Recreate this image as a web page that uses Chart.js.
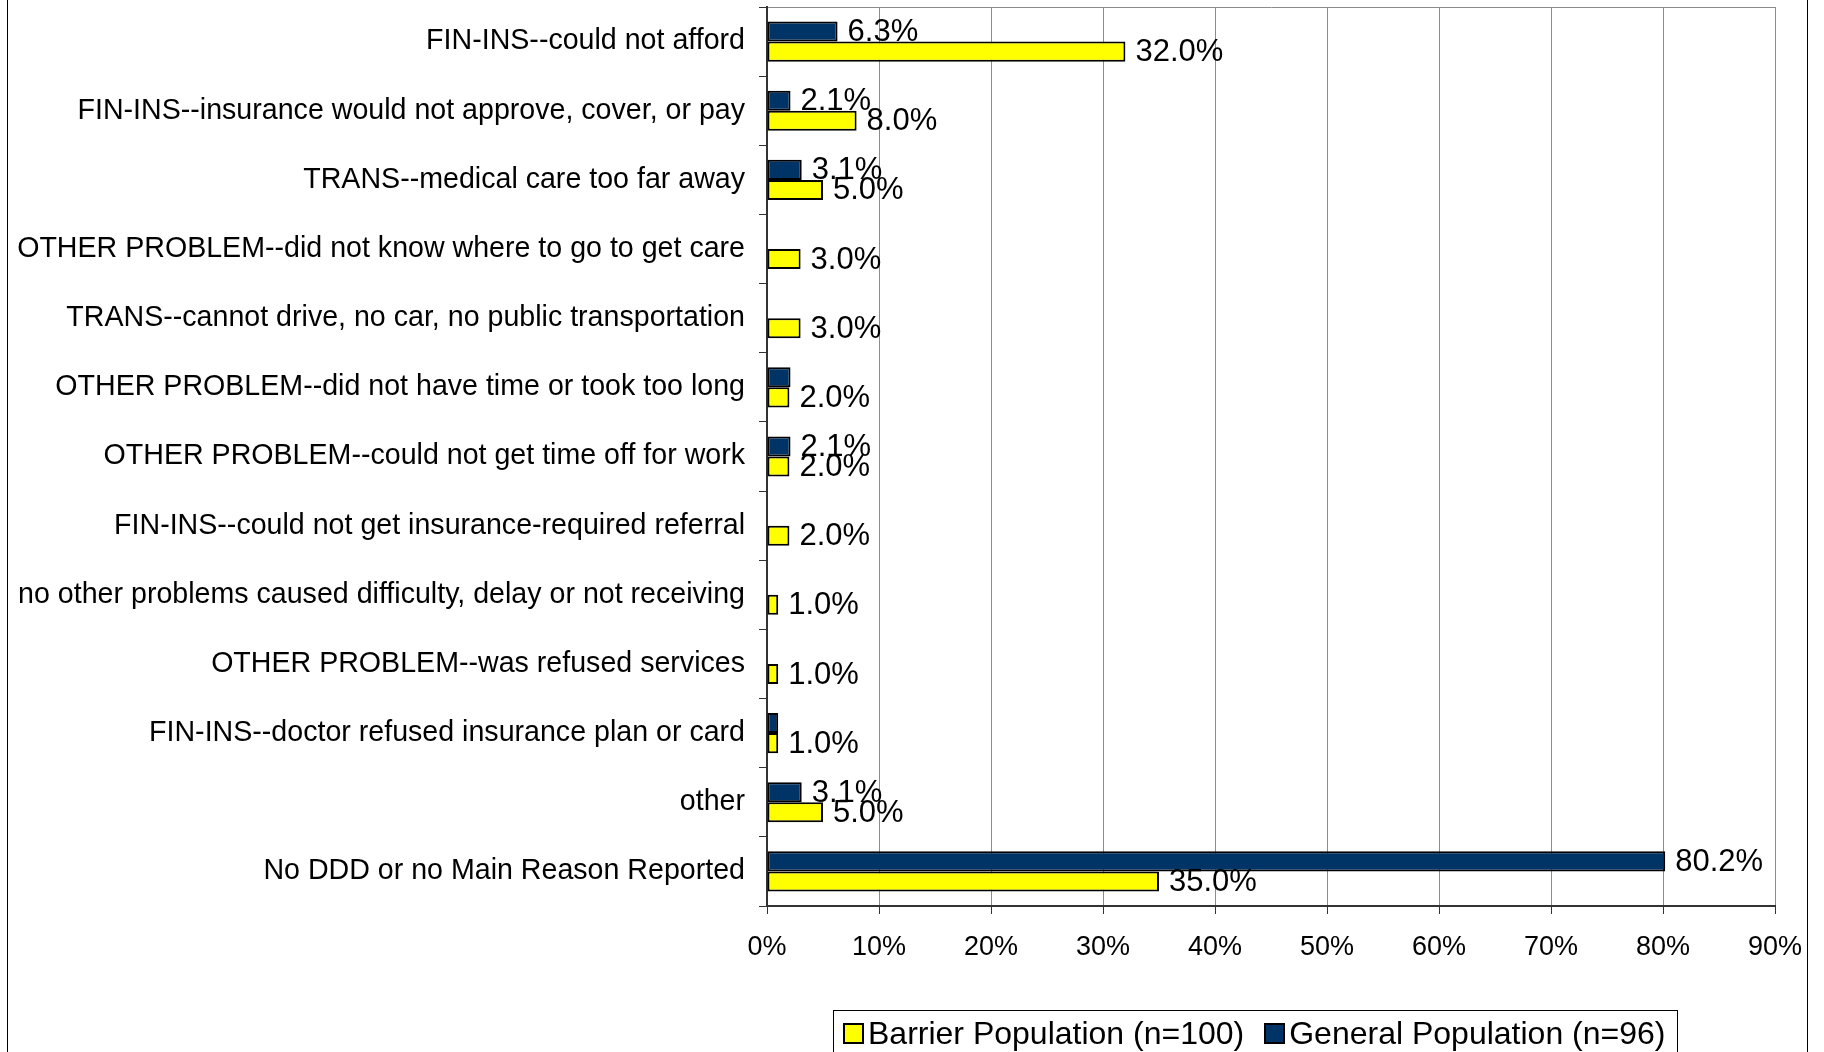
<!DOCTYPE html>
<html>
<head>
<meta charset="utf-8">
<script src="https://cdn.jsdelivr.net/npm/chart.js@4.4.0/dist/chart.umd.min.js"></script>
<style>
  body { margin: 0; background: #fff; }
  .frame { position: absolute; left: 7px; top: 0; width: 1799px; height: 1052px;
           border-left: 1px solid #000; border-right: 1px solid #000; }
  #chart { position: absolute; left: 0; top: 0; }
  .legend { position: absolute; left: 833px; top: 1010px; width: 845px; height: 60px;
            border: 1px solid #000; border-bottom: none; box-sizing: border-box;
            display: flex; align-items: flex-start; padding: 11px 0 0 9px; white-space: nowrap;
            font-family: 'Liberation Sans', Arial, sans-serif; font-size: 32px; color: #000; }
  .legend .item { display: flex; align-items: center; flex-shrink: 0; margin-right: 20px; line-height: 22px; }
  .legend .swatch { width: 17px; height: 17px; border: 2px solid #000; margin-right: 4px; flex-shrink: 0; }
</style>
</head>
<body>
<div class="frame"></div>
<canvas id="chart" width="1824" height="1052"></canvas>
<div class="legend" id="legend"></div>
<script>
const categories = [
  'FIN-INS--could not afford',
  'FIN-INS--insurance would not approve, cover, or pay',
  'TRANS--medical care too far away',
  'OTHER PROBLEM--did not know where to go to get care',
  'TRANS--cannot drive, no car, no public transportation',
  'OTHER PROBLEM--did not have time or took too long',
  'OTHER PROBLEM--could not get time off for work',
  'FIN-INS--could not get insurance-required referral',
  'no other problems caused difficulty, delay or not receiving',
  'OTHER PROBLEM--was refused services',
  'FIN-INS--doctor refused insurance plan or card',
  'other',
  'No DDD or no Main Reason Reported'
]
const barrierValues = [32.0, 8.0, 5.0, 3.0, 3.0, 2.0, 2.0, 2.0, 1.0, 1.0, 1.0, 5.0, 35.0]
const generalValues = [6.3, 2.1, 3.1, 0, 0, 2.1, 2.1, 0, 0, 0, 1.0, 3.1, 80.2]
// the original only prints some of the general population values
const generalLabelShown = [true, true, true, false, false, false, true, false, false, false, false, true, true]
const xTickValues = [0, 10, 20, 30, 40, 50, 60, 70, 80, 90]

const FONT = "'Liberation Sans', Arial, sans-serif"

// value labels drawn at the end of each bar
const valueLabels = {
  id: 'valueLabels',
  afterDatasetsDraw(chart) {
    const ctx = chart.ctx
    ctx.save()
    ctx.font = '31px ' + FONT
    ctx.fillStyle = '#000'
    ctx.textBaseline = 'middle'
    ctx.textAlign = 'left'
    chart.data.datasets.forEach((ds, di) => {
      const meta = chart.getDatasetMeta(di)
      meta.data.forEach((bar, i) => {
        const v = ds.data[i]
        if (!v) return
        if (ds.showLabel && !ds.showLabel[i]) return
        ctx.fillText(v.toFixed(1) + '%', bar.x + 10, bar.y + 1)
      })
    })
    ctx.restore()
  }
}

const data = {
  labels: categories,
  datasets: [
    {
      label: 'General Population (n=96)',
      data: generalValues,
      showLabel: generalLabelShown,
      backgroundColor: '#003366',
      borderColor: '#000',
      borderWidth: 2,
      borderSkipped: false
    },
    {
      label: 'Barrier Population (n=100)',
      data: barrierValues,
      backgroundColor: '#ffff00',
      borderColor: '#000',
      borderWidth: 2,
      borderSkipped: false
    }
  ]
}

const config = {
  type: 'bar',
  data: data,
  options: {
    indexAxis: 'y',
    responsive: false,
    animation: false,
    devicePixelRatio: 1,
    layout: { padding: { top: 7, right: 49, left: 0, bottom: 0 } },
    datasets: { bar: { categoryPercentage: 0.58, barPercentage: 1.0 } },
    plugins: {
      legend: { display: false },
      tooltip: { enabled: false }
    },
    scales: {
      x: {
        min: 0,
        max: 90,
        afterBuildTicks: (scale) => { scale.ticks = xTickValues.map(v => ({ value: v })) },
        afterFit: (scale) => { scale.height = 146 },
        ticks: {
          color: '#000',
          padding: 17,
          font: { family: FONT, size: 27 },
          callback: (v) => v + '%'
        },
        grid: { color: '#8c8c8c', lineWidth: 1, tickLength: 8, tickColor: '#333' },
        border: { display: true, color: '#333', width: 2 }
      },
      y: {
        afterFit: (scale) => {
          scale.width = 767
          scale.paddingTop = 0
          scale.paddingBottom = 0
        },
        ticks: {
          color: '#000',
          padding: 14,
          autoSkip: false,
          font: { family: FONT, size: 28.6 }
        },
        grid: {
          offset: true,
          color: (c) => c.index === 0 ? '#8c8c8c' : 'rgba(0,0,0,0)',
          tickColor: '#333',
          tickLength: 8
        },
        border: { display: true, color: '#333', width: 2 }
      }
    }
  },
  plugins: [valueLabels]
}

const chart = new Chart(document.getElementById('chart'), config)

// legend in the original order: barrier first, then general
const legend = document.getElementById('legend')
chart.data.datasets.slice().reverse().forEach(ds => {
  const item = document.createElement('div')
  item.className = 'item'
  const sw = document.createElement('span')
  sw.className = 'swatch'
  sw.style.background = ds.backgroundColor
  const txt = document.createElement('span')
  txt.textContent = ds.label
  item.appendChild(sw)
  item.appendChild(txt)
  legend.appendChild(item)
})
</script>
</body>
</html>
